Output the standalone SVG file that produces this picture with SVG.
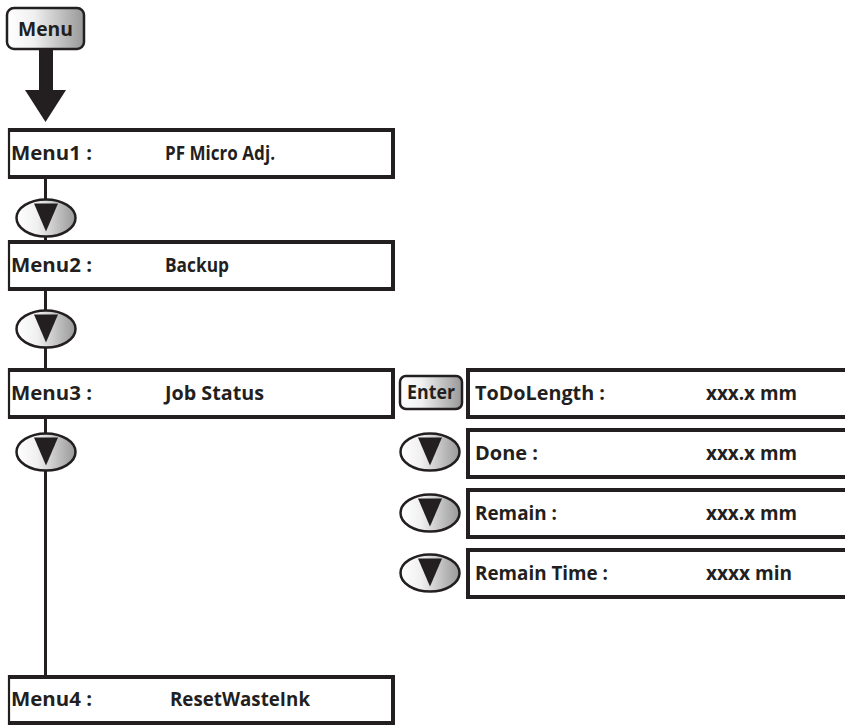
<svg xmlns="http://www.w3.org/2000/svg" width="845" height="725" viewBox="0 0 845 725">
<defs>
<linearGradient id="btn" x1="0" y1="0" x2="1" y2="0">
<stop offset="0" stop-color="#ffffff"/>
<stop offset="0.35" stop-color="#f0f0f0"/>
<stop offset="1" stop-color="#989898"/>
</linearGradient>
<g id="down">
<ellipse cx="0" cy="0" rx="29.5" ry="18.5" fill="url(#btn)" stroke="#231f20" stroke-width="2.5"/>
<polygon points="-12,-14.5 12,-14.5 0,13.5" fill="#231f20"/>
</g>
</defs>
<style>
.bg{fill:#fff;stroke:none}
.thick{fill:none;stroke:#231f20;stroke-width:4;stroke-linejoin:miter}
.thin{fill:none;stroke:#231f20;stroke-width:2.2}
.t{font-family:"Open Sans","Liberation Sans",sans-serif;font-weight:bold;font-size:19px;fill:#231f20}
.line{stroke:#231f20;stroke-width:3;fill:none}
</style>
<g id="connectors">
<line class="line" x1="45.5" y1="179" x2="45.5" y2="677"/>
<rect x="39" y="50" width="14" height="41" fill="#231f20"/>
<polygon points="25,90 66,90 45.5,122" fill="#231f20"/>
</g>
<g id="menu-btn">
<rect x="7" y="8" width="77" height="41" rx="7" fill="url(#btn)" stroke="#231f20" stroke-width="2.5"/>
<text class="t" x="45.5" y="36" text-anchor="middle" font-size="20" textLength="55" lengthAdjust="spacingAndGlyphs">Menu</text>
</g>
<g id="menu1">
<rect class="bg" x="9" y="130" width="384" height="47"/>
<path class="thick" d="M8,130 H393 V177 H8"/>
<line class="thin" x1="9" y1="128" x2="9" y2="179"/>
<text class="t" x="11" y="160" textLength="81" lengthAdjust="spacingAndGlyphs">Menu1 :</text>
<text class="t" x="165" y="160" textLength="110" lengthAdjust="spacingAndGlyphs">PF Micro Adj.</text>
</g>
<g id="down1"><use href="#down" x="46" y="218"/></g>
<g id="menu2">
<rect class="bg" x="9" y="242" width="384" height="47"/>
<path class="thick" d="M8,242 H393 V289 H8"/>
<line class="thin" x1="9" y1="240" x2="9" y2="291"/>
<text class="t" x="11" y="272" textLength="81" lengthAdjust="spacingAndGlyphs">Menu2 :</text>
<text class="t" x="165" y="272" textLength="64" lengthAdjust="spacingAndGlyphs">Backup</text>
</g>
<g id="down2"><use href="#down" x="46" y="329"/></g>
<g id="menu3">
<rect class="bg" x="9" y="370" width="384" height="47"/>
<path class="thick" d="M8,370 H393 V417 H8"/>
<line class="thin" x1="9" y1="368" x2="9" y2="419"/>
<text class="t" x="11" y="400" textLength="81" lengthAdjust="spacingAndGlyphs">Menu3 :</text>
<text class="t" x="165" y="400" textLength="99" lengthAdjust="spacingAndGlyphs">Job Status</text>
</g>
<g id="down3"><use href="#down" x="46" y="452"/></g>
<g id="menu4">
<rect class="bg" x="9" y="677" width="384" height="46"/>
<path class="thick" d="M8,677 H393 V723 H8"/>
<line class="thin" x1="9" y1="675" x2="9" y2="725"/>
<text class="t" x="11" y="706" textLength="81" lengthAdjust="spacingAndGlyphs">Menu4 :</text>
<text class="t" x="170" y="706" textLength="140" lengthAdjust="spacingAndGlyphs">ResetWasteInk</text>
</g>
<g id="enter-btn">
<rect x="400" y="376" width="62" height="33" rx="6" fill="url(#btn)" stroke="#231f20" stroke-width="2.5"/>
<text class="t" x="431" y="398.5" text-anchor="middle" font-size="16" textLength="48" lengthAdjust="spacingAndGlyphs">Enter</text>
</g>
<g id="todo">
<rect class="bg" x="468" y="370" width="380" height="47"/>
<path class="thick" d="M850,370 H468 V417 H850"/>
<text class="t" x="475" y="400" textLength="130" lengthAdjust="spacingAndGlyphs">ToDoLength :</text>
<text class="t" x="706" y="400" textLength="91" lengthAdjust="spacingAndGlyphs">xxx.x mm</text>
</g>
<g id="down4"><use href="#down" x="430" y="452"/></g>
<g id="done">
<rect class="bg" x="468" y="430" width="380" height="47"/>
<path class="thick" d="M850,430 H468 V477 H850"/>
<text class="t" x="475" y="460" textLength="63" lengthAdjust="spacingAndGlyphs">Done :</text>
<text class="t" x="706" y="460" textLength="91" lengthAdjust="spacingAndGlyphs">xxx.x mm</text>
</g>
<g id="down5"><use href="#down" x="430" y="513"/></g>
<g id="remain">
<rect class="bg" x="468" y="490" width="380" height="47"/>
<path class="thick" d="M850,490 H468 V537 H850"/>
<text class="t" x="475" y="520" textLength="82" lengthAdjust="spacingAndGlyphs">Remain :</text>
<text class="t" x="706" y="520" textLength="91" lengthAdjust="spacingAndGlyphs">xxx.x mm</text>
</g>
<g id="down6"><use href="#down" x="430" y="573"/></g>
<g id="remaintime">
<rect class="bg" x="468" y="550" width="380" height="47"/>
<path class="thick" d="M850,550 H468 V597 H850"/>
<text class="t" x="475" y="580" textLength="133" lengthAdjust="spacingAndGlyphs">Remain Time :</text>
<text class="t" x="706" y="580" textLength="86" lengthAdjust="spacingAndGlyphs">xxxx min</text>
</g>
</svg>
